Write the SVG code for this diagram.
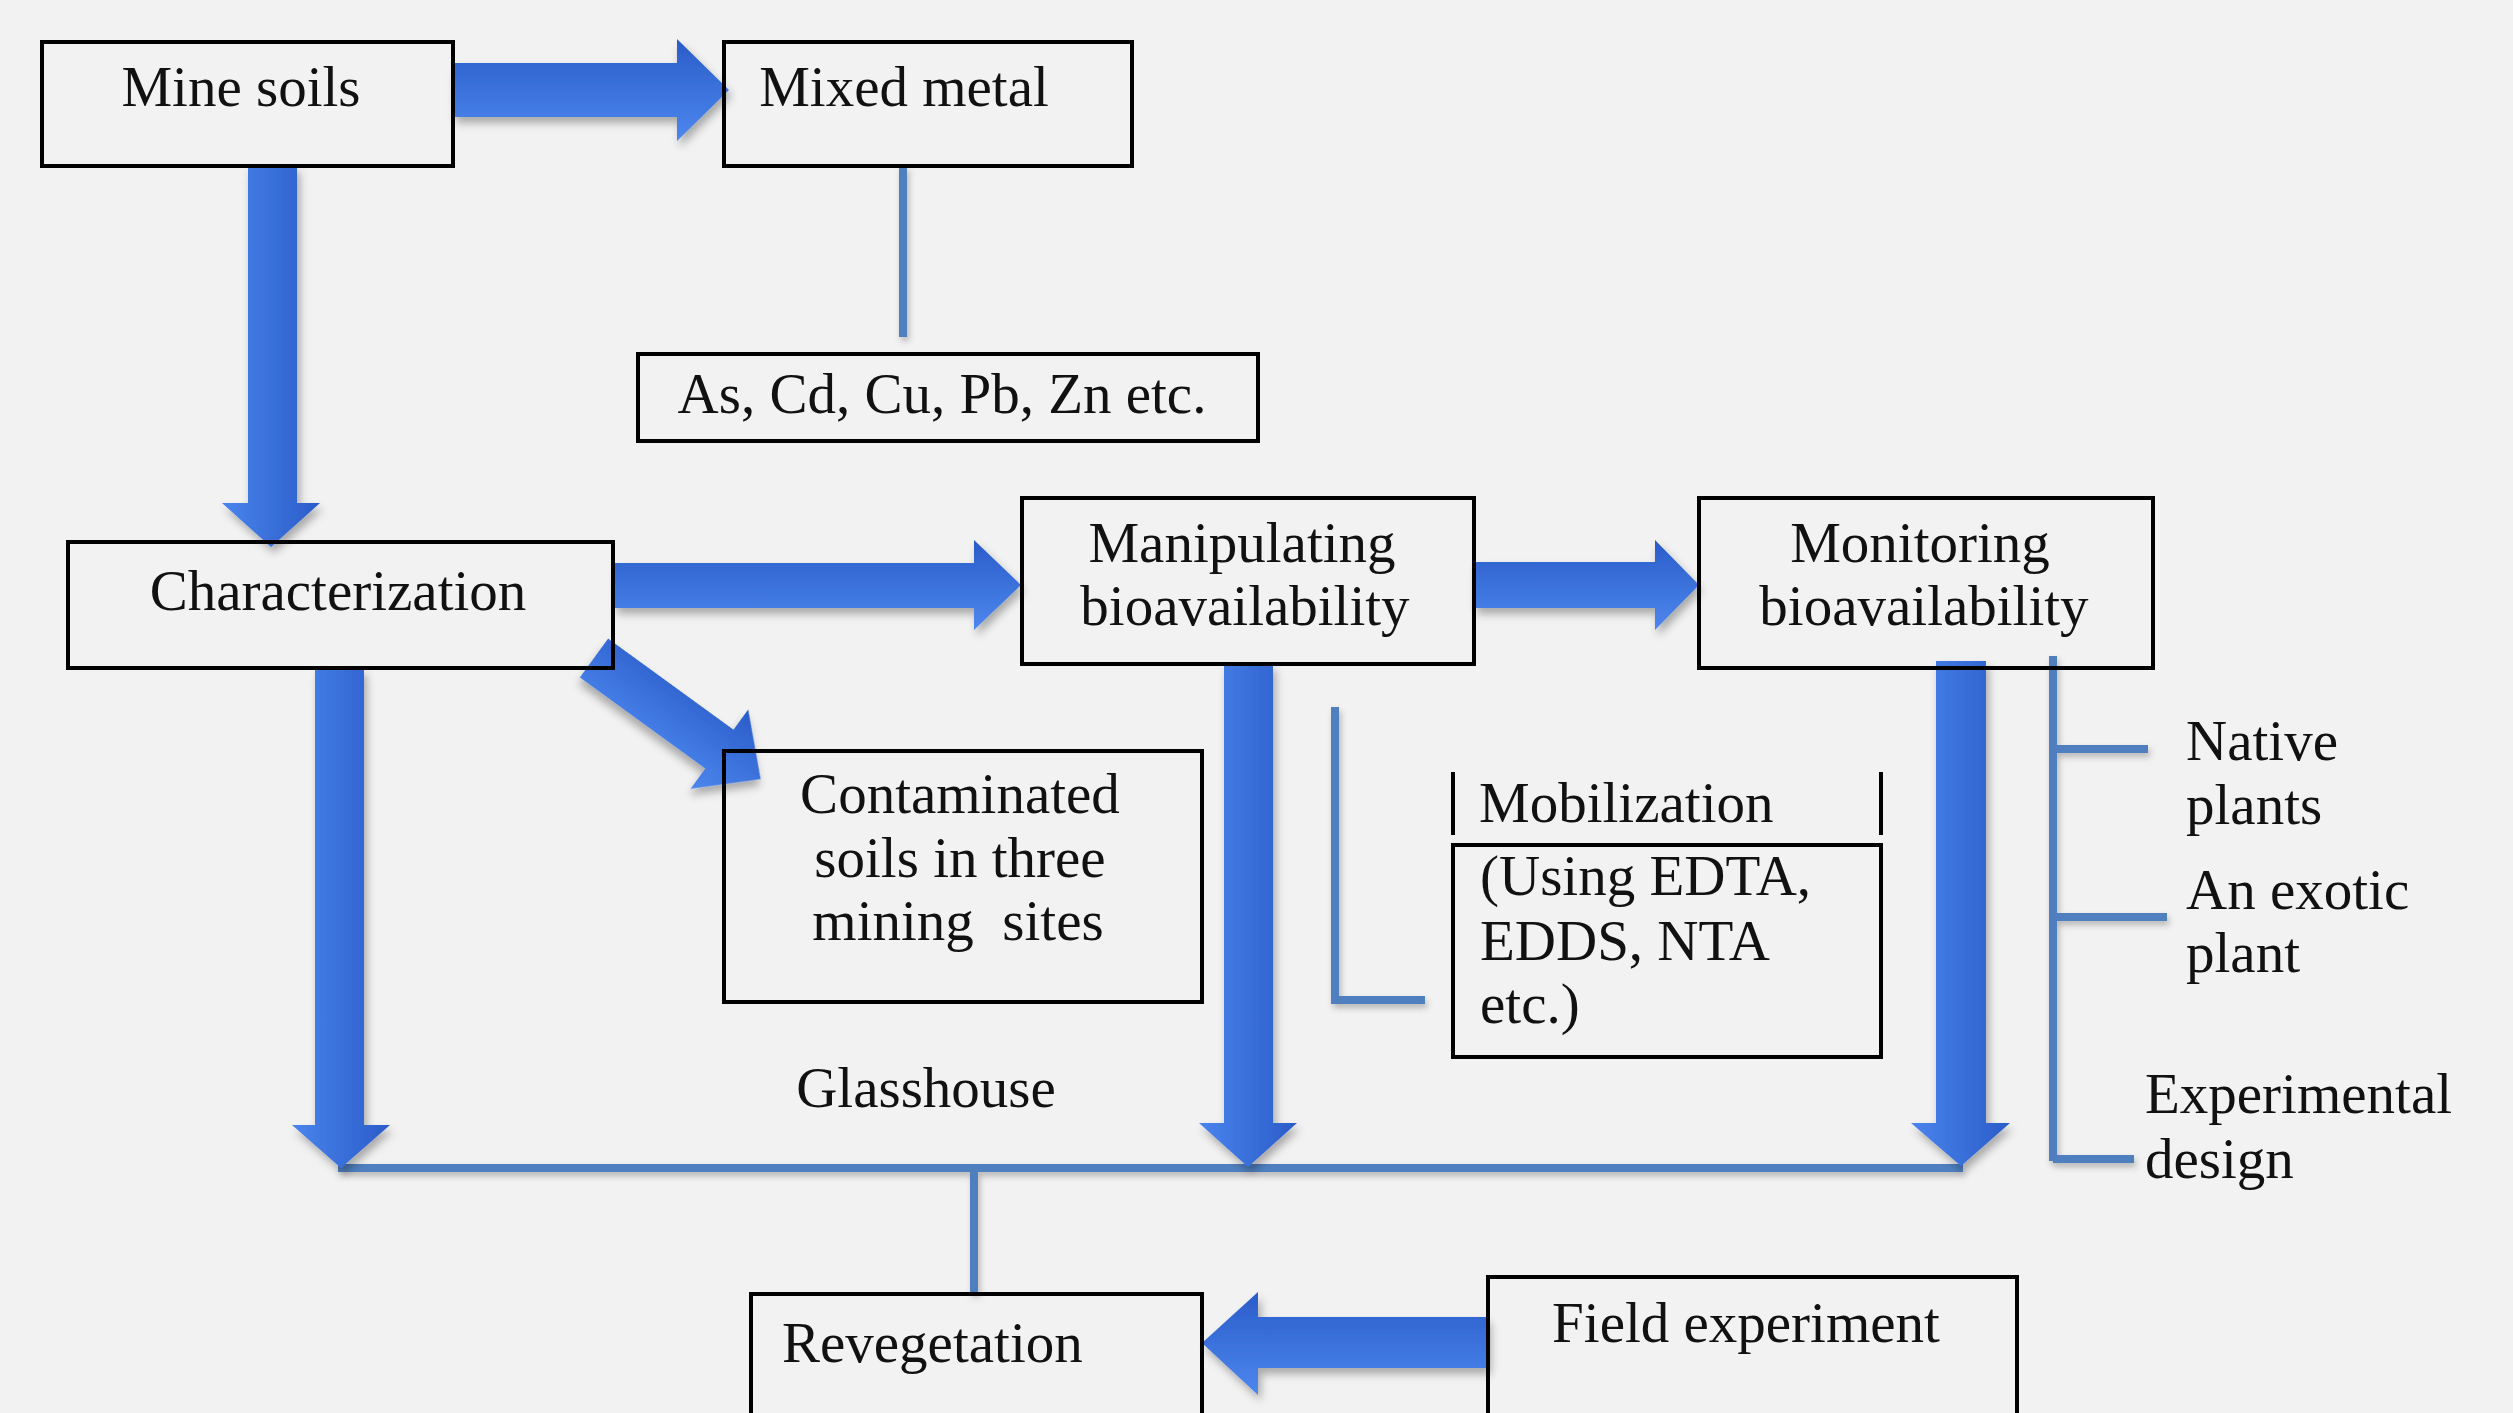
<svg xmlns="http://www.w3.org/2000/svg" width="2513" height="1413" viewBox="0 0 2513 1413">
<defs>
<style>
.box{fill:none;stroke:#000;stroke-width:4}
.t{font-family:"Liberation Serif","Times New Roman",serif;font-size:57px;fill:#111}
.c{text-anchor:middle}
.thin{fill:none;stroke:#4f7fbf;stroke-width:8;stroke-linecap:butt}
.blk{fill:none;stroke:#000;stroke-width:4}
.ah{fill:url(#gh);filter:url(#sh)}
.av{fill:url(#gv);filter:url(#sh)}
</style>
<linearGradient id="gh" x1="0" y1="0" x2="0" y2="1">
<stop offset="0" stop-color="#2a5cc9"/>
<stop offset="1" stop-color="#4d87ee"/>
</linearGradient>
<linearGradient id="gv" x1="0" y1="0" x2="1" y2="0">
<stop offset="0" stop-color="#4a84ec"/>
<stop offset="1" stop-color="#2a5cc9"/>
</linearGradient>
<filter id="sh" x="-20%" y="-20%" width="140%" height="140%">
<feDropShadow dx="3" dy="6" stdDeviation="4" flood-color="#000" flood-opacity="0.3"/>
</filter>
<filter id="sl" x="-5%" y="-50%" width="110%" height="200%">
<feDropShadow dx="2" dy="4" stdDeviation="3" flood-color="#000" flood-opacity="0.25"/>
</filter>
</defs>
<rect x="0" y="0" width="2513" height="1413" fill="#f2f2f2"/>

<g id="connectors">
<polygon class="ah" points="453,63 677,63 677,39 729,90 677,141 677,117 453,117"/>
<polygon class="av" points="248,166 297,166 297,503 320,503 271,547 222,503 248,503"/>
<polygon class="ah" points="614,563 974,563 974,540 1021,585 974,630 974,608 614,608"/>
<polygon class="ah" transform="translate(594,658) rotate(36)" points="0,-24 155,-24 155,-49 206,0 155,49 155,24 0,24"/>
<polygon class="ah" points="1474,562 1655,562 1655,540 1699,585 1655,630 1655,608 1474,608"/>
<g filter="url(#sl)">
<line class="thin" x1="338" y1="1168" x2="1963" y2="1168"/>
<line class="thin" x1="974" y1="1168" x2="974" y2="1293"/>
<line class="thin" x1="903" y1="166" x2="903" y2="337"/>
<path class="thin" d="M1335,707 V1000 H1425"/>
<path class="thin" d="M2053,656 V1161 M2053,749 H2148 M2053,917 H2167 M2053,1159 H2134"/>
</g>
<polygon class="av" points="315,669 364,669 364,1125 390,1125 341,1168 292,1125 315,1125"/>
<polygon class="av" points="1224,664 1273,664 1273,1123 1297,1123 1248,1167 1199,1123 1224,1123"/>
<polygon class="av" points="1936,661 1986,661 1986,1123 2010,1123 1961,1166 1911,1123 1936,1123"/>
<polygon class="ah" points="1488,1317 1258,1317 1258,1292 1202,1343 1258,1395 1258,1368 1488,1368"/>
</g>

<g id="mine-soils">
<rect class="box" x="42" y="42" width="411" height="124"/>
<text class="t c" x="241" y="106">Mine soils</text>
</g>
<g id="mixed-metal">
<rect class="box" x="724" y="42" width="408" height="124"/>
<text class="t c" x="904" y="106">Mixed metal</text>
</g>
<g id="metals">
<rect class="box" x="638" y="354" width="620" height="87"/>
<text class="t c" x="942" y="413">As, Cd, Cu, Pb, Zn etc.</text>
</g>
<g id="characterization">
<rect class="box" x="68" y="542" width="545" height="126"/>
<text class="t c" x="338" y="610">Characterization</text>
</g>
<g id="manipulating">
<rect class="box" x="1022" y="498" width="452" height="166"/>
<text class="t c" x="1242" y="562">Manipulating</text>
<text class="t c" x="1245" y="625">bioavailability</text>
</g>
<g id="monitoring">
<rect class="box" x="1699" y="498" width="454" height="170"/>
<text class="t c" x="1920" y="562">Monitoring</text>
<text class="t c" x="1924" y="625">bioavailability</text>
</g>
<g id="contaminated">
<rect class="box" x="724" y="751" width="478" height="251"/>
<text class="t c" x="960" y="813">Contaminated</text>
<text class="t c" x="960" y="877">soils in three</text>
<text class="t c" x="958" y="940" xml:space="preserve">mining  sites</text>
</g>
<g id="glasshouse">
<text class="t c" x="926" y="1107">Glasshouse</text>
</g>
<g id="mobilization">
<line class="blk" x1="1453" y1="772" x2="1453" y2="835"/>
<line class="blk" x1="1881" y1="772" x2="1881" y2="835"/>
<text class="t" x="1479" y="822">Mobilization</text>
</g>
<g id="chelants">
<rect class="box" x="1453" y="845" width="428" height="212"/>
<text class="t" x="1480" y="895">(Using EDTA,</text>
<text class="t" x="1480" y="960">EDDS, NTA</text>
<text class="t" x="1480" y="1023">etc.)</text>
</g>
<g id="native-plants">
<text class="t" x="2186" y="760">Native</text>
<text class="t" x="2186" y="824">plants</text>
</g>
<g id="exotic-plant">
<text class="t" x="2186" y="909">An exotic</text>
<text class="t" x="2186" y="972">plant</text>
</g>
<g id="experimental-design">
<text class="t" x="2145" y="1113">Experimental</text>
<text class="t" x="2145" y="1178">design</text>
</g>
<g id="revegetation">
<rect class="box" x="751" y="1294" width="451" height="140"/>
<text class="t" x="782" y="1362">Revegetation</text>
</g>
<g id="field-experiment">
<rect class="box" x="1488" y="1277" width="529" height="160"/>
<text class="t c" x="1746" y="1342">Field experiment</text>
</g>
</svg>
